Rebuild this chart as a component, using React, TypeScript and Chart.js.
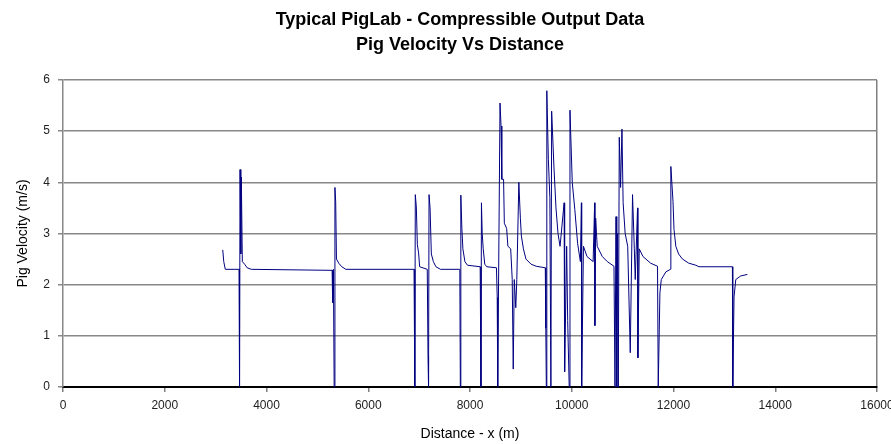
import React, { useEffect, useRef } from "react";
import { Chart, registerables } from "chart.js";

Chart.register(...registerables);

const titleLines = ["Typical PigLab - Compressible Output Data", "Pig Velocity Vs Distance"];
const xAxisTitle = "Distance - x (m)";
const yAxisTitle = "Pig Velocity (m/s)";
const xTickLabels = ["0", "2000", "4000", "6000", "8000", "10000", "12000", "14000", "16000"];
const yTickLabels = ["0", "1", "2", "3", "4", "5", "6"];

// distance (m)
const distance = [
  3140, 3160, 3190, 3460, 3470, 3480, 3495, 3505, 3525, 3570, 3620, 3700,
  5290, 5300, 5315, 5330, 5345, 5360, 5375, 5420, 5480, 5560,
  6900, 6915, 6925, 6945, 6965, 6990, 7010, 7160, 7175, 7185, 7195, 7215, 7240, 7280, 7330, 7420,
  7800, 7810, 7820, 7840, 7860, 7900, 7950,
  8200, 8215, 8225, 8240, 8260, 8290, 8330,
  8520, 8535, 8545, 8590, 8610, 8625, 8660, 8675, 8720, 8745, 8800, 8830, 8850, 8870, 8900, 8920,
  8960, 8990, 9010, 9050, 9100, 9200, 9300, 9480, 9490, 9500, 9510, 9540, 9570, 9590, 9605,
  9650, 9690, 9730, 9770, 9850, 9860, 9900, 9920, 9950, 9965, 10010, 10060, 10116, 10170,
  10190, 10195, 10230, 10300, 10420, 10450, 10455, 10470, 10500, 10600, 10700, 10830,
  10850, 10870, 10885, 10900, 10915, 10934, 10960, 10987, 11010, 11050, 11100, 11150,
  11195, 11230, 11248, 11293, 11300, 11327, 11400, 11550, 11686, 11700, 11733, 11760, 11850,
  11940, 11948, 11990, 12010, 12046, 12100, 12177, 12300, 12439, 12500, 13158, 13165, 13190,
  13224, 13320, 13453,
];

// pig velocity (m/s)
const velocity = [
  2.68, 2.45, 2.3, 2.3, 0, 4.25, 2.6, 4.1, 2.45, 2.4, 2.33, 2.3,
  2.28, 1.65, 2.3, 0, 3.9, 3.62, 2.5, 2.42, 2.35, 2.3,
  2.3, 0, 3.76, 3.52, 2.78, 2.62, 2.35, 2.3, 0.6, 0, 3.76, 3.5, 2.6, 2.45, 2.35, 2.3,
  2.3, 0, 3.75, 3.1, 2.7, 2.45, 2.38,
  2.35, 0, 3.6, 3.0, 2.7, 2.4, 2.35,
  2.33, 1.75, 0, 5.55, 5.1, 4.06, 4.06, 3.2, 3.1, 2.75, 2.7, 2.1, 0.35, 2.1, 1.55, 2.1,
  4.0, 3.3, 2.95, 2.7, 2.5, 2.4, 2.36, 2.33, 1.15, 0, 5.79, 4.45, 3.7, 0, 5.39,
  4.3, 3.5, 3.0, 2.75, 3.6, 0.3, 2.75, 1.3, 0, 5.41, 4.0, 3.47, 2.8, 2.45,
  3.6, 0, 2.75, 2.55, 2.45, 3.6, 1.2, 3.3, 2.75, 2.55, 2.45, 2.36,
  0, 3.33, 0, 3.0, 0, 4.88, 3.9, 5.04, 3.6, 3.0, 2.75, 0.67,
  3.76, 2.7, 2.1, 3.5, 0.57, 2.7, 2.55, 2.42, 2.36, 0, 1.84, 2.1, 2.25,
  2.3, 4.31, 3.63, 3.08, 2.75, 2.6, 2.5, 2.42, 2.38, 2.35, 2.35, 0, 1.76,
  2.1, 2.17, 2.2,
];

const FONT = '"Liberation Sans", Arial, Helvetica, sans-serif';

const titlePlugin = {
  id: "twoLineTitle",
  afterDraw(chart: any) {
    const ctx = chart.ctx;
    ctx.save();
    ctx.font = `bold 18px ${FONT}`;
    ctx.fillStyle = "#000";
    ctx.textAlign = "center";
    ctx.textBaseline = "alphabetic";
    ctx.fillText(titleLines[0], 460, 25);
    ctx.fillText(titleLines[1], 460, 50);
    ctx.restore();
  },
};

export default function App() {
  const ref = useRef<HTMLCanvasElement | null>(null);

  useEffect(() => {
    const canvas = ref.current;
    if (!canvas) return;
    const points = distance.map((d, i) => ({ x: d, y: velocity[i] }));
    const chart = new Chart(canvas, {
      type: "line",
      data: {
        datasets: [
          {
            data: points,
            borderColor: "#000080",
            borderWidth: 1,
            pointRadius: 0,
            tension: 0,
            fill: false,
          },
        ],
      },
      options: {
        animation: false,
        responsive: false,
        devicePixelRatio: 1,
        layout: { padding: { top: 80, left: 0, right: 14, bottom: 0 } },
        plugins: {
          legend: { display: false },
          tooltip: { enabled: false },
          title: { display: false },
        },
        scales: {
          x: {
            type: "linear",
            min: 0,
            max: 16000,
            ticks: {
              stepSize: 2000,
              autoSkip: false,
              maxRotation: 0,
              padding: 6,
              color: "#222",
              font: { family: FONT, size: 12 },
              callback: (_v: any, i: number) => xTickLabels[i],
            },
            grid: {
              drawOnChartArea: true,
              color: (c: any) => (c.tick && c.tick.value === 16000 ? "#808080" : "rgba(0,0,0,0)"),
              tickColor: "#808080",
              tickLength: 5,
              lineWidth: 1.5,
            },
            border: { display: true, color: "#000", width: 2 },
            title: {
              display: true,
              text: xAxisTitle,
              color: "#000",
              font: { family: FONT, size: 14 },
              padding: { top: 0, bottom: 1 },
            },
            afterFit: (s: any) => {
              s.height = 57;
              s.paddingLeft = 0;
              s.paddingRight = 0;
            },
          },
          y: {
            type: "linear",
            min: 0,
            max: 6,
            ticks: {
              stepSize: 1,
              padding: 8,
              color: "#222",
              font: { family: FONT, size: 12 },
              callback: (_v: any, i: number) => yTickLabels[i],
            },
            grid: {
              color: "#888",
              lineWidth: 1.5,
              tickColor: "#888",
              tickLength: 5,
            },
            border: { display: true, color: "#888", width: 1.5 },
            title: {
              display: true,
              text: yAxisTitle,
              color: "#000",
              font: { family: FONT, size: 14 },
              padding: { top: 15, bottom: 0 },
            },
            afterFit: (s: any) => {
              s.width = 63;
              s.paddingTop = 0;
              s.paddingBottom = 0;
            },
          },
        },
      },
      plugins: [titlePlugin],
    } as any);
    return () => chart.destroy();
  }, []);

  return (
    <div style={{ position: "fixed", left: 0, top: 0, width: 891, height: 444, background: "#fff" }}>
      <canvas ref={ref} width={891} height={444} style={{ width: 891, height: 444, display: "block" }} />
    </div>
  );
}
